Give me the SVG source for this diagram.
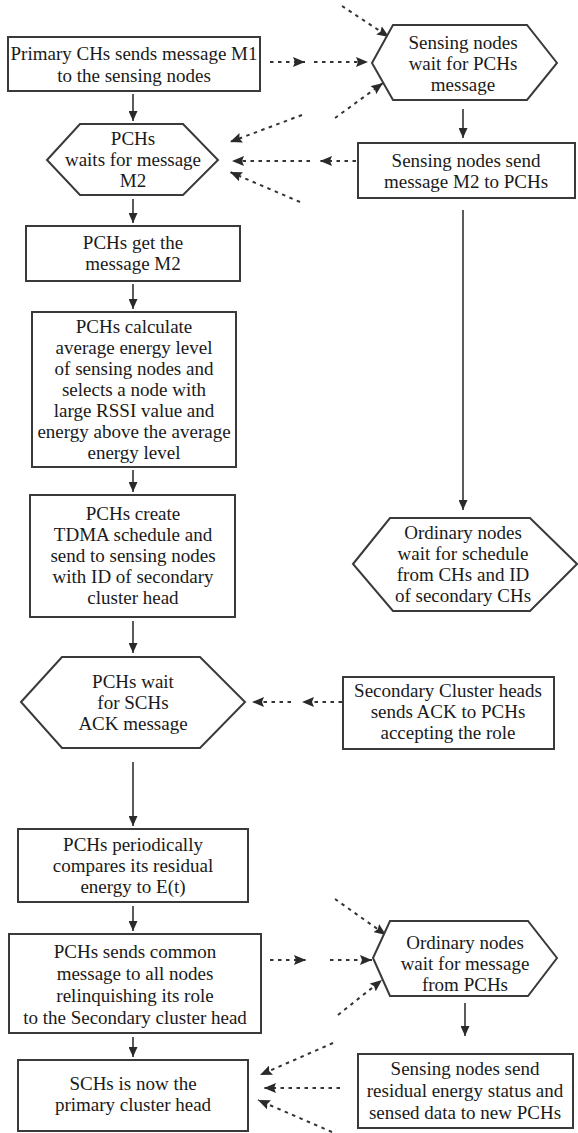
<svg xmlns="http://www.w3.org/2000/svg" width="578" height="1133" viewBox="0 0 578 1133">
<defs>
<style>
.box{fill:#fff;stroke:#3a3a3a;stroke-width:2}
.t{font-family:"Liberation Serif","Times New Roman",serif;font-size:19px;fill:#1a1a1a;text-anchor:middle}
.solid{fill:none;stroke:#333;stroke-width:1.6}
.dash{fill:none;stroke:#333;stroke-width:2;stroke-dasharray:3.5 4.5}
</style>
<marker id="ah" viewBox="0 0 10 9" refX="10" refY="4.5" markerWidth="10" markerHeight="9" markerUnits="userSpaceOnUse" orient="auto">
<path d="M0,0 L10,4.5 L0,9 z" fill="#2a2a2a"/>
</marker>
<marker id="ad" viewBox="0 0 12 10" refX="12" refY="5" markerWidth="12" markerHeight="10" markerUnits="userSpaceOnUse" orient="auto">
<path d="M0,0 L12,5 L0,10 L2,5 z" fill="#2a2a2a"/>
</marker>
</defs>

<g id="connectors">
<!-- solid arrows left column -->
<line class="solid" x1="133" y1="94" x2="133" y2="121" marker-end="url(#ah)"/>
<line class="solid" x1="133" y1="199" x2="133" y2="223" marker-end="url(#ah)"/>
<line class="solid" x1="133" y1="284" x2="133" y2="309" marker-end="url(#ah)"/>
<line class="solid" x1="133" y1="470" x2="133" y2="492" marker-end="url(#ah)"/>
<line class="solid" x1="133" y1="621" x2="133" y2="653" marker-end="url(#ah)"/>
<line class="solid" x1="133" y1="762" x2="133" y2="826" marker-end="url(#ah)"/>
<line class="solid" x1="133" y1="906" x2="133" y2="931" marker-end="url(#ah)"/>
<line class="solid" x1="133" y1="1037" x2="133" y2="1057" marker-end="url(#ah)"/>
<!-- solid arrows right column -->
<line class="solid" x1="463" y1="109" x2="463" y2="138" marker-end="url(#ah)"/>
<line class="solid" x1="463" y1="210" x2="463" y2="510" marker-end="url(#ah)"/>
<line class="solid" x1="465" y1="1003" x2="465" y2="1036" marker-end="url(#ah)"/>
<!-- dashed, top -->
<line class="dash" x1="270" y1="62" x2="305" y2="62" marker-end="url(#ad)"/>
<line class="dash" x1="314" y1="62" x2="368" y2="62" marker-end="url(#ad)"/>
<line class="dash" x1="342" y1="6" x2="389" y2="37" marker-end="url(#ad)"/>
<line class="dash" x1="335" y1="118" x2="383" y2="83" marker-end="url(#ad)"/>
<line class="dash" x1="302" y1="115" x2="230" y2="142" marker-end="url(#ad)"/>
<line class="dash" x1="356" y1="161" x2="320" y2="161" marker-end="url(#ad)"/>
<line class="dash" x1="310" y1="161" x2="232" y2="161" marker-end="url(#ad)"/>
<line class="dash" x1="300" y1="202" x2="230" y2="172" marker-end="url(#ad)"/>
<!-- dashed, middle -->
<line class="dash" x1="342" y1="702" x2="302" y2="702" marker-end="url(#ad)"/>
<line class="dash" x1="291" y1="702" x2="252" y2="702" marker-end="url(#ad)"/>
<!-- dashed, bottom -->
<line class="dash" x1="270" y1="960" x2="306" y2="960" marker-end="url(#ad)"/>
<line class="dash" x1="330" y1="960" x2="372" y2="960" marker-end="url(#ad)"/>
<line class="dash" x1="335" y1="899" x2="386" y2="935" marker-end="url(#ad)"/>
<line class="dash" x1="338" y1="1015" x2="382" y2="980" marker-end="url(#ad)"/>
<line class="dash" x1="333" y1="1043" x2="260" y2="1075" marker-end="url(#ad)"/>
<line class="dash" x1="340" y1="1088" x2="264" y2="1088" marker-end="url(#ad)"/>
<line class="dash" x1="332" y1="1132" x2="258" y2="1100" marker-end="url(#ad)"/>
</g>

<g id="n1">
<rect class="box" x="8" y="37" width="252" height="54"/>
<text class="t" x="134" y="60">Primary CHs sends message M1</text>
<text class="t" x="134" y="82">to the sensing nodes</text>
</g>

<g id="n2">
<polygon class="box" points="372,63 393,25 527,25 557,63 527,100 393,100"/>
<text class="t" x="463" y="49">Sensing nodes</text>
<text class="t" x="463" y="70">wait for PCHs</text>
<text class="t" x="463" y="91">message</text>
</g>

<g id="n3">
<polygon class="box" points="47,160 80,124 183,124 218,160 183,195 80,195"/>
<text class="t" x="133" y="145">PCHs</text>
<text class="t" x="133" y="166">waits for message</text>
<text class="t" x="133" y="187">M2</text>
</g>

<g id="n4">
<rect class="box" x="358" y="143" width="217" height="55"/>
<text class="t" x="466" y="167">Sensing nodes send</text>
<text class="t" x="466" y="188">message M2 to PCHs</text>
</g>

<g id="n5">
<rect class="box" x="26" y="226" width="214" height="55"/>
<text class="t" x="133" y="249">PCHs get the</text>
<text class="t" x="133" y="270">message M2</text>
</g>

<g id="n6">
<rect class="box" x="32" y="312" width="204" height="155"/>
<text class="t" x="134" y="333">PCHs calculate</text>
<text class="t" x="134" y="354">average energy level</text>
<text class="t" x="134" y="375">of sensing nodes and</text>
<text class="t" x="134" y="396">selects a node with</text>
<text class="t" x="134" y="417">large RSSI value and</text>
<text class="t" x="134" y="438">energy above the average</text>
<text class="t" x="134" y="459">energy level</text>
</g>

<g id="n7">
<rect class="box" x="30" y="495" width="205" height="122"/>
<text class="t" x="133" y="520">PCHs create</text>
<text class="t" x="133" y="541">TDMA schedule and</text>
<text class="t" x="133" y="562">send to sensing nodes</text>
<text class="t" x="133" y="583">with ID of secondary</text>
<text class="t" x="133" y="604">cluster head</text>
</g>

<g id="n8">
<polygon class="box" points="353,564 390,518 530,518 577,564 530,611 393,611"/>
<text class="t" x="463" y="539">Ordinary nodes</text>
<text class="t" x="463" y="560">wait for schedule</text>
<text class="t" x="463" y="581">from CHs and ID</text>
<text class="t" x="463" y="602">of secondary CHs</text>
</g>

<g id="n9">
<polygon class="box" points="21,702 62,657 200,657 245,702 200,748 62,748"/>
<text class="t" x="133" y="688">PCHs wait</text>
<text class="t" x="133" y="709">for SCHs</text>
<text class="t" x="133" y="730">ACK message</text>
</g>

<g id="n10">
<rect class="box" x="343" y="677" width="211" height="72"/>
<text class="t" x="448" y="697">Secondary Cluster heads</text>
<text class="t" x="448" y="718">sends ACK to PCHs</text>
<text class="t" x="448" y="739">accepting the role</text>
</g>

<g id="n11">
<rect class="box" x="18" y="829" width="230" height="73"/>
<text class="t" x="133" y="851">PCHs periodically</text>
<text class="t" x="133" y="872">compares its residual</text>
<text class="t" x="133" y="893">energy to E(t)</text>
</g>

<g id="n12">
<rect class="box" x="9" y="934" width="252" height="99"/>
<text class="t" x="135" y="958">PCHs sends common</text>
<text class="t" x="135" y="980">message to all nodes</text>
<text class="t" x="135" y="1002">relinquishing its role</text>
<text class="t" x="135" y="1024">to the Secondary cluster head</text>
</g>

<g id="n13">
<polygon class="box" points="373,958 390,921 528,921 557,958 528,996 390,996"/>
<text class="t" x="465" y="949">Ordinary nodes</text>
<text class="t" x="465" y="970">wait for message</text>
<text class="t" x="465" y="991">from PCHs</text>
</g>

<g id="n14">
<rect class="box" x="18" y="1060" width="230" height="71"/>
<text class="t" x="133" y="1090">SCHs is now the</text>
<text class="t" x="133" y="1111">primary cluster head</text>
</g>

<g id="n15">
<rect class="box" x="358" y="1054" width="215" height="74"/>
<text class="t" x="465" y="1075">Sensing nodes send</text>
<text class="t" x="465" y="1097">residual energy status and</text>
<text class="t" x="465" y="1119">sensed data to new PCHs</text>
</g>
</svg>
